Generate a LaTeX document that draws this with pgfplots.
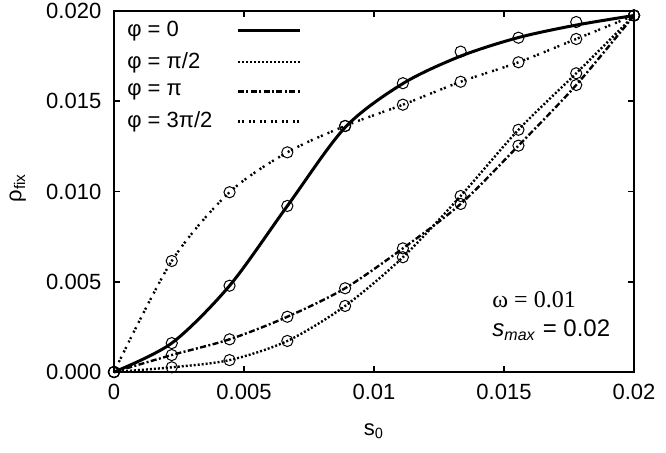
\documentclass[border=0pt]{standalone}
\usepackage{pgfplots}
\pgfplotsset{compat=1.18}
\usepackage{fontspec}
\setmainfont{Liberation Sans}
\newfontfamily\seriffont{Liberation Serif}
\pgfplotstableread{
x        p0       p1       p2       p3
0.0      0.0      0.0      0.0      0.0
0.002222 0.00160  0.00026  0.00094  0.00615
0.004444 0.00478  0.00066  0.00181  0.00996
0.006667 0.00920  0.00172  0.00306  0.01217
0.008889 0.01363  0.00366  0.00464  0.01363
0.011111 0.01600  0.00636  0.00685  0.01481
0.013333 0.01775  0.00975  0.00931  0.01608
0.015556 0.01852  0.01342  0.01254  0.01716
0.017778 0.01939  0.01655  0.01590  0.01845
0.020000 0.01975  0.01975  0.01975  0.01975
}\data
\pgfplotstableread{
x        p0
0.0      0.0
0.002222 0.00160
0.004444 0.00478
0.006667 0.00920
0.008889 0.01355
0.011111 0.01598
0.013333 0.01750
0.015556 0.01853
0.017778 0.01922
0.020000 0.01975
}\theory
\begin{document}
\fontsize{11}{12}\selectfont
\begin{tikzpicture}
\useasboundingbox (-57pt,-40pt) rectangle (276pt,186pt);
\begin{axis}[
  scale only axis, width=260pt, height=180.5pt,
  xmin=0, xmax=0.02, ymin=0, ymax=0.02,
  clip=false,
  scaled ticks=false,
  xtick={0,0.005,0.01,0.015,0.02},
  xticklabels={0,0.005,0.01,0.015,0.02},
  ytick={0,0.005,0.01,0.015,0.02},
  yticklabels={0.000,0.005,0.010,0.015,0.020},
  tick align=inside,
  major tick length=3pt,
  every tick/.style={black, line width=0.8pt},
  axis line style={line width=1pt},
  tick label style={font=\fontsize{11}{12}\selectfont},
  yticklabel style={xshift=-2.5pt},
  xticklabel style={yshift=-2pt},
  xlabel={s$_{\mathsf{0}}$},
  ylabel={ρ\textsubscript{fix}},
  xlabel style={at={(axis description cs:0.5,-0.165)}, anchor=center},
  ylabel style={at={(axis description cs:-0.185,0.51)}, anchor=center},
  legend plot pos=right,
  legend cell align=left,
  legend style={at={(axis description cs:0,1)}, anchor=north west, draw=none, fill=none,
    xshift=1.5pt, yshift=-1pt, row sep=2.2pt, column sep=10pt,
    font=\fontsize{11}{12}\selectfont},
  legend image code/.code={\draw[#1] (0pt,0pt) -- (31pt,0pt);},
]
\addplot[black, line width=1.5pt, smooth, no marks] table[x=x,y=p0]{\theory};
\addlegendentry{φ = 0}
\addplot[black, line width=1.2pt, dash pattern=on 1pt off 1pt, smooth, no marks] table[x=x,y=p1]{\data};
\addlegendentry{φ = π/2}
\addplot[black, line width=1.2pt, dash pattern=on 3pt off 1.2pt on 1pt off 1.2pt, smooth, no marks] table[x=x,y=p2]{\data};
\addlegendentry{φ = π}
\addplot[black, line width=1.2pt, dash pattern=on 1pt off 0.9pt on 1pt off 2.6pt, smooth, no marks] table[x=x,y=p3]{\data};
\addlegendentry{φ = 3π/2}
\addplot[only marks, mark=o, mark size=2.8pt, mark options={black, line width=0.5pt}, forget plot] table[x=x,y=p0]{\data};
\addplot[only marks, mark=o, mark size=2.8pt, mark options={black, line width=0.5pt}, forget plot] table[x=x,y=p1]{\data};
\addplot[only marks, mark=o, mark size=2.8pt, mark options={black, line width=0.5pt}, forget plot] table[x=x,y=p2]{\data};
\addplot[only marks, mark=o, mark size=2.8pt, mark options={black, line width=0.5pt}, forget plot] table[x=x,y=p3]{\data};
\node[anchor=west, inner sep=0pt, font=\seriffont\fontsize{12}{13}\selectfont] at (axis description cs:0.727,0.2) {ω = 0.01};
\node[anchor=west, inner sep=0pt, font=\fontsize{12}{13}\selectfont] at (axis description cs:0.727,0.116) {\textit{s}\textsubscript{\textit{max}} = 0.02};
\end{axis}
\end{tikzpicture}
\end{document}
